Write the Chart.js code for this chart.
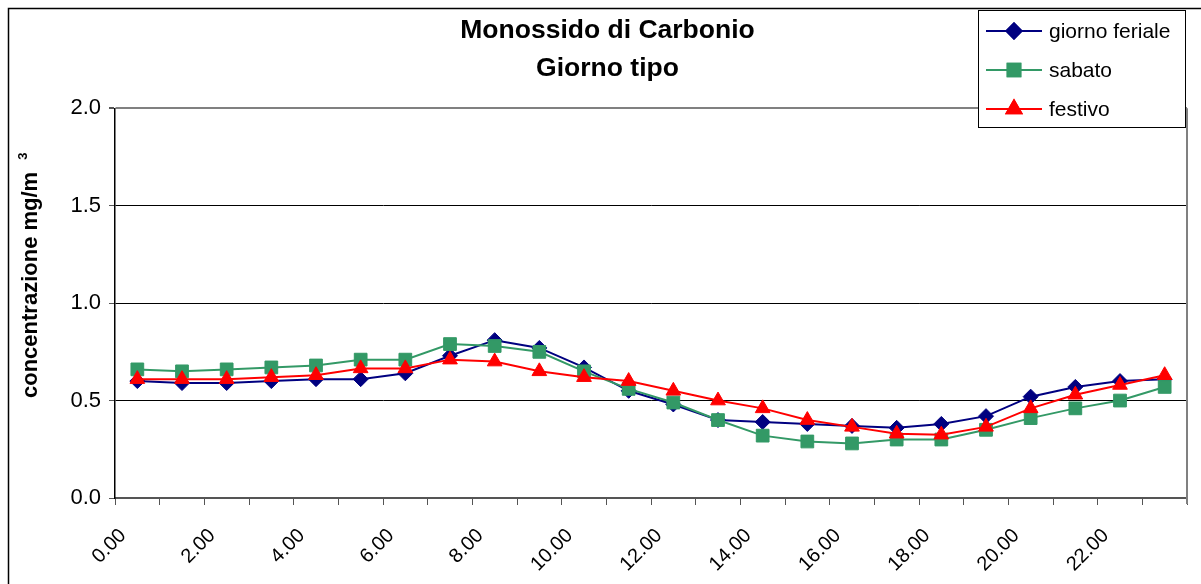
<!DOCTYPE html>
<html>
<head>
<meta charset="utf-8">
<script src="https://cdn.jsdelivr.net/npm/chart.js@4.4.1/dist/chart.umd.min.js"></script>
<style>
html,body{margin:0;padding:0;background:#fff;}
#wrap{width:1201px;height:584px;position:relative;}
</style>
</head>
<body>
<div id="wrap"><canvas id="c" width="1201" height="584"></canvas></div>
<script>
// ---- data ----
const hourLabels = ['0.00','1.00','2.00','3.00','4.00','5.00','6.00','7.00','8.00','9.00','10.00','11.00',
                    '12.00','13.00','14.00','15.00','16.00','17.00','18.00','19.00','20.00','21.00','22.00','23.00'];
const feriale = [0.60,0.59,0.59,0.60,0.61,0.61,0.64,0.73,0.81,0.77,0.67,0.55,0.48,0.40,0.39,0.38,0.37,0.36,0.38,0.42,0.52,0.57,0.60,0.61];
const sabato  = [0.66,0.65,0.66,0.67,0.68,0.71,0.71,0.79,0.78,0.75,0.65,0.56,0.49,0.40,0.32,0.29,0.28,0.30,0.30,0.35,0.41,0.46,0.50,0.57];
const festivo = [0.61,0.61,0.61,0.62,0.63,0.665,0.665,0.71,0.70,0.65,0.62,0.60,0.55,0.50,0.46,0.40,0.365,0.33,0.325,0.365,0.46,0.53,0.58,0.63];
const seriesNames = ['giorno feriale','sabato','festivo'];
const titleLines = ['Monossido di Carbonio','Giorno tipo'];
const yTitle = 'concentrazione mg/m';
const yTitleSup = '3';

const FONT = "'Liberation Sans', Arial, sans-serif";

function pts(arr){ return arr.map((v,i)=>({x:i+0.5, y:v})); }

const styles = [
  {color:'#000080', pointStyle:'rectRot', radius:7.5},
  {color:'#339966', pointStyle:'rect', radius:9},
  {color:'#FF0000', pointStyle:'triangle', radius:8.5}
];
const seriesData = [feriale, sabato, festivo];

const datasets = seriesData.map((arr,i)=>({
  label: seriesNames[i],
  data: pts(arr),
  borderColor: styles[i].color,
  backgroundColor: styles[i].color,
  pointBackgroundColor: styles[i].color,
  pointBorderColor: styles[i].color,
  pointStyle: styles[i].pointStyle,
  pointRadius: styles[i].radius,
  pointBorderWidth: 1,
  borderWidth: 2,
  tension: 0,
  order: 2 - i
}));

const decor = {
  id: 'decor',
  afterDraw(chart){
    const ctx = chart.ctx, a = chart.chartArea;
    ctx.save();
    // outer frame
    ctx.strokeStyle = '#000'; ctx.lineWidth = 1.5;
    ctx.strokeRect(8.5, 8.5, 1400, 800);
    // plot right border
    ctx.strokeStyle = '#808080'; ctx.lineWidth = 2;
    ctx.beginPath(); ctx.moveTo(a.right, a.top); ctx.lineTo(a.right, a.bottom+6); ctx.stroke();
    // y title
    ctx.fillStyle = '#000';
    ctx.translate(37, 398); ctx.rotate(-Math.PI/2);
    ctx.font = "bold 22px " + FONT;
    ctx.textAlign = 'left'; ctx.textBaseline = 'alphabetic';
    ctx.fillText(yTitle, 0, 0);
    const w = ctx.measureText(yTitle).width;
    ctx.font = "bold 13px " + FONT;
    ctx.fillText(yTitleSup, w + 12, -10);
    ctx.restore();

    // legend
    ctx.save();
    const L = {x:978.5, y:10.5, w:207, h:117};
    ctx.fillStyle = '#fff'; ctx.fillRect(L.x, L.y, L.w, L.h);
    ctx.strokeStyle = '#000'; ctx.lineWidth = 1; ctx.strokeRect(L.x, L.y, L.w, L.h);
    const rows = [31, 70, 109];
    seriesNames.forEach((name,i)=>{
      const y = rows[i];
      ctx.strokeStyle = styles[i].color; ctx.lineWidth = 2;
      ctx.beginPath(); ctx.moveTo(986, y); ctx.lineTo(1042, y); ctx.stroke();
      ctx.fillStyle = styles[i].color;
      Chart.helpers.drawPoint(ctx, {pointStyle: styles[i].pointStyle, radius: styles[i].radius, rotation:0, borderWidth:1}, 1014, y);
      ctx.fill(); ctx.stroke();
      ctx.fillStyle = '#000'; ctx.font = "21px " + FONT;
      ctx.textAlign = 'left'; ctx.textBaseline = 'middle';
      ctx.fillText(name, 1049, y + 1);
    });
    ctx.restore();
  }
};

new Chart(document.getElementById('c'), {
  type: 'line',
  data: { datasets },
  options: {
    responsive: false,
    animation: false,
    layout: { padding: { left: 28, right: 14, top: 0, bottom: 0 } },
    plugins: {
      legend: { display: false },
      tooltip: { enabled: false },
      title: {
        display: true,
        text: titleLines,
        color: '#000',
        font: { family: FONT, size: 26.5, weight: 'bold', lineHeight: 1.42 },
        padding: { top: 12, bottom: 21 }
      }
    },
    scales: {
      x: {
        type: 'linear', min: 0, max: 24,
        afterFit(s){ s.height = 86; s.paddingLeft = 0; s.paddingRight = 0; },
        ticks: {
          stepSize: 1, autoSkip: false, maxRotation: 45, minRotation: 45,
          color: '#000', font: { family: FONT, size: 20 }, padding: 19, labelOffset: 8,
          callback: (v) => (v % 2 === 0 && v < 24) ? hourLabels[v] : ''
        },
        grid: { drawOnChartArea: false, drawTicks: true, tickLength: 7, tickColor: '#555', color: '#555' },
        border: { display: true, color: '#555', width: 2 }
      },
      y: {
        min: 0, max: 2,
        afterFit(s){ s.width = 87; s.paddingTop = 0; s.paddingBottom = 0; },
        ticks: {
          stepSize: 0.5, color: '#000', font: { family: FONT, size: 22 }, padding: 8,
          callback: (v) => v.toFixed(1)
        },
        grid: {
          color: (c) => (c.tick && c.tick.value === 2) ? '#808080' : '#000',
          lineWidth: (c) => (c.tick && c.tick.value === 2) ? 2 : 1,
          drawTicks: true, tickLength: 6, tickColor: '#555'
        },
        border: { display: true, color: '#000', width: 1.5 }
      }
    }
  },
  plugins: [decor]
});
</script>
</body>
</html>
